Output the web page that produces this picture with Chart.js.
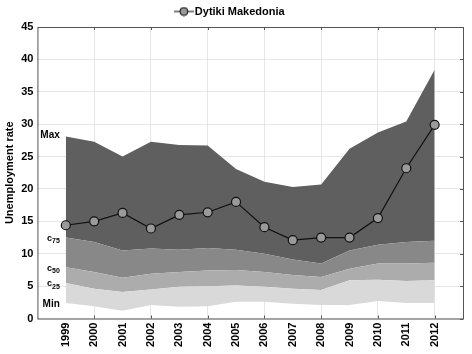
<!DOCTYPE html>
<html>
<head>
<meta charset="utf-8">
<script src="https://cdn.jsdelivr.net/npm/chart.js@4"></script>
<style>
  html, body { margin: 0; padding: 0; background: #fff; }
  #wrap { width: 472px; height: 354px; }
</style>
</head>
<body>
<div id="wrap"><canvas id="chart"></canvas></div>
<script>
// data
const years = [1999, 2000, 2001, 2002, 2003, 2004, 2005, 2006, 2007, 2008, 2009, 2010, 2011, 2012];
const region = [14.4, 15.0, 16.3, 13.9, 16.0, 16.4, 18.0, 14.1, 12.1, 12.5, 12.5, 15.5, 23.2, 29.9];
const maxVals = [28.1, 27.3, 25.0, 27.3, 26.8, 26.7, 23.1, 21.1, 20.3, 20.7, 26.2, 28.7, 30.4, 38.4];
const c75Vals = [12.5, 11.8, 10.5, 10.8, 10.6, 10.9, 10.6, 10.0, 9.1, 8.5, 10.5, 11.4, 11.8, 12.0];
const c50Vals = [7.9, 7.2, 6.3, 6.9, 7.2, 7.4, 7.5, 7.2, 6.7, 6.4, 7.7, 8.5, 8.5, 8.6];
const c25Vals = [5.5, 4.6, 4.1, 4.5, 4.9, 5.0, 5.1, 4.9, 4.6, 4.4, 5.9, 6.0, 5.8, 5.9];
const minVals = [2.4, 1.9, 1.2, 2.1, 1.8, 1.9, 2.6, 2.6, 2.3, 2.1, 2.1, 2.7, 2.4, 2.4];
const yTicks = [0, 5, 10, 15, 20, 25, 30, 35, 40, 45];

const pts = vals => vals.map((v, i) => ({x: years[i], y: v}));
const FONT = "'Liberation Sans', Arial, sans-serif";

// legend symbol: short line with a circle
const sym = document.createElement('canvas');
sym.width = 20; sym.height = 10;
(function () {
  const c = sym.getContext('2d');
  c.strokeStyle = '#000'; c.lineWidth = 1;
  c.beginPath(); c.moveTo(0, 5); c.lineTo(20, 5); c.stroke();
  c.beginPath(); c.arc(10, 5, 4, 0, Math.PI * 2);
  c.fillStyle = '#999'; c.fill(); c.stroke();
})();

const band = (label, vals, color) => ({
  label, data: pts(vals), fill: '-1', backgroundColor: color,
  borderWidth: 0, pointRadius: 0, tension: 0, order: 1
});

// band labels at the left of the plot
const bandLabels = {
  id: 'bandLabels',
  afterDatasetsDraw(chart) {
    const {ctx, scales: {x, y}} = chart;
    const lx = x.getPixelForValue(1999) - 6;
    ctx.save();
    ctx.fillStyle = '#000';
    ctx.textAlign = 'right';
    ctx.textBaseline = 'middle';
    ctx.font = 'bold 10px ' + FONT;
    ctx.fillText('Max', lx, y.getPixelForValue(maxVals[0]) - 1);
    ctx.fillText('Min', lx, y.getPixelForValue(minVals[0]) + 1);
    const sub = (s, v) => {
      const py = y.getPixelForValue(v) + 2;
      ctx.font = 'bold 7px ' + FONT;
      const w = ctx.measureText(s).width;
      ctx.fillText(s, lx, py + 2);
      ctx.font = 'bold 9px ' + FONT;
      ctx.fillText('c', lx - w, py - 1);
    };
    sub('75', c75Vals[0]);
    sub('50', c50Vals[0]);
    sub('25', c25Vals[0]);
    ctx.restore();
  }
};

// frame with small inner ticks on top and right
const frame = {
  id: 'frame',
  afterDraw(chart) {
    const {ctx, chartArea: a, scales: {x, y}} = chart;
    ctx.save();
    ctx.strokeStyle = '#555';
    ctx.lineWidth = 1;
    ctx.strokeRect(a.left + 0.5, a.top + 0.5, a.right - a.left, a.bottom - a.top);
    ctx.beginPath();
    yTicks.forEach(v => {
      const py = Math.round(y.getPixelForValue(v)) + 0.5;
      ctx.moveTo(a.right, py); ctx.lineTo(a.right - 3, py);
    });
    years.filter(v => v % 2 === 0).forEach(v => {
      const px = Math.round(x.getPixelForValue(v)) + 0.5;
      ctx.moveTo(px, a.top); ctx.lineTo(px, a.top + 3);
      ctx.moveTo(px, a.bottom); ctx.lineTo(px, a.bottom - 3);
    });
    ctx.stroke();
    ctx.restore();
  }
};

new Chart(document.getElementById('chart'), {
  type: 'line',
  data: {
    datasets: [
      {label: 'Min', data: pts(minVals), fill: false, borderWidth: 0, pointRadius: 0, borderColor: 'transparent', order: 1},
      band('c25', c25Vals, '#d9d9d9'),
      band('c50', c50Vals, '#acacac'),
      band('c75', c75Vals, '#888888'),
      band('Max', maxVals, '#5f5f5f'),
      {
        label: 'Dytiki Makedonia', data: pts(region), fill: false, order: 0,
        borderColor: '#111', borderWidth: 1.2, tension: 0,
        pointRadius: 4.5, pointBackgroundColor: '#9a9a9a', pointBorderColor: '#111', pointBorderWidth: 1.2
      }
    ]
  },
  options: {
    responsive: true,
    maintainAspectRatio: false,
    animation: false,
    layout: {padding: {left: 0, right: 9, top: 1, bottom: 3}},
    plugins: {
      legend: {
        position: 'top',
        labels: {
          filter: it => it.text === 'Dytiki Makedonia',
          usePointStyle: true, pointStyle: sym, padding: 5,
          color: '#000', font: {family: FONT, size: 11, weight: 'bold'}
        }
      },
      tooltip: {enabled: false}
    },
    scales: {
      x: {
        type: 'linear', min: 1998, max: 2013,
        afterBuildTicks: s => { s.ticks = years.map(v => ({value: v})); },
        ticks: {
          callback: v => String(v), minRotation: 90, maxRotation: 90, padding: 4,
          color: '#000', font: {family: FONT, size: 11, weight: 'bold'}
        },
        grid: {
          color: c => (c.tick && c.tick.value % 2 === 0) ? '#e6e6e6' : 'transparent',
          drawTicks: false
        },
        border: {display: false}
      },
      y: {
        min: 0, max: 45,
        afterBuildTicks: s => { s.ticks = yTicks.map(v => ({value: v})); },
        title: {display: true, text: 'Unemployment rate', color: '#000', font: {family: FONT, size: 11, weight: 'bold'}, padding: {top: 3, bottom: 1}},
        ticks: {color: '#000', padding: 4, font: {family: FONT, size: 11, weight: 'bold'}},
        grid: {color: '#e6e6e6', drawTicks: false},
        border: {display: false}
      }
    }
  },
  plugins: [bandLabels, frame]
});
</script>
</body>
</html>
